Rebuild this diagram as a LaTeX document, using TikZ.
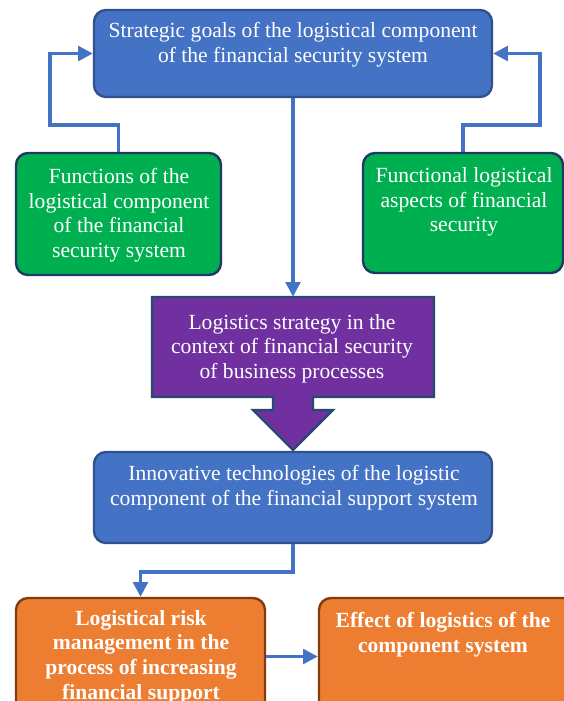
\documentclass[tikz,border=0pt]{standalone}
\usepackage{fontspec}
\setmainfont{Liberation Serif}
\usetikzlibrary{arrows.meta}

\definecolor{goalblue}{HTML}{4472C4}
\definecolor{goalline}{HTML}{2F528F}
\definecolor{funcgreen}{HTML}{00B050}
\definecolor{funcline}{HTML}{203864}
\definecolor{stratpurple}{HTML}{7030A0}
\definecolor{stratline}{HTML}{264B70}
\definecolor{riskorange}{HTML}{ED7D31}
\definecolor{riskline}{HTML}{843C0C}

\tikzset{
    panel/.style={draw, line width=1.8pt, rounded corners=9pt, inner sep=0pt},
    bluepanel/.style={panel, fill=goalblue, draw=goalline},
    greenpanel/.style={panel, fill=funcgreen, draw=funcline},
    orangepanel/.style={panel, fill=riskorange, draw=riskline},
    caption/.style={text=white, align=center, inner sep=0pt, font=\fontsize{16.2}{18.4}\selectfont},
    link/.style={draw=goalblue, line width=2.4pt, -{Triangle[length=11pt,width=11pt]}}
}

\begin{document}
\begin{tikzpicture}[x=0.75pt, y=-0.75pt]
    \clip (0,0) rectangle (564,701);
    \fill[white] (0,0) rectangle (564,701);

    % boxes
    \node[bluepanel, minimum width=298.5pt, minimum height=65.25pt] (goals) at (293,53.5) {};
    \node[greenpanel, minimum width=153.75pt, minimum height=91.5pt] (funcs) at (118.5,214) {};
    \node[greenpanel, minimum width=150pt, minimum height=90pt] (aspects) at (463,213) {};
    \node[bluepanel, minimum width=298.5pt, minimum height=68.25pt] (tech) at (293,497.5) {};
    \node[orangepanel, minimum width=186.75pt, minimum height=87.75pt] (risk) at (140.5,656.5) {};
    \node[orangepanel, minimum width=192pt, minimum height=87.75pt] (effect) at (447,656.5) {};

    % purple block arrow
    \draw[fill=stratpurple, draw=stratline, line width=1.8pt]
        (152,297) -- (434,297) -- (434,397) -- (313,397) -- (313,410) -- (333,410)
        -- (293,450) -- (253,410) -- (273,410) -- (273,397) -- (152,397) -- cycle;
    \node[minimum width=211.5pt, minimum height=75pt, inner sep=0pt] (strategy) at (293,347) {};

    % texts
    \node[caption] (goalsText) at (293,44.5) {Strategic goals of the logistical component\\of the financial security system};
    \node[caption] (funcsText) at (119,215) {Functions of the\\logistical component\\of the financial\\security system};
    \node[caption] (aspectsText) at (464,202) {Functional logistical\\aspects of financial\\security};
    \node[caption] (strategyText) at (292,348.5) {Logistics strategy in the\\context of financial security\\of business processes};
    \node[caption] (techText) at (294,487.5) {Innovative technologies of the logistic\\component of the financial support system};
    \node[caption, font=\fontsize{16.2}{18.4}\selectfont\bfseries] (riskText) at (141,657) {Logistical risk\\management in the\\process of increasing\\financial support};
    \node[caption, font=\fontsize{16.2}{18.4}\selectfont\bfseries] (effectText) at (443,634.5) {Effect of logistics of the\\component system};

    % connectors
    \draw[link] (funcs.north) -- (118.5,125) -| (50,53.5) -- (goals.west);
    \draw[link] (aspects.north) -- (463,125) -| (540,53.5) -- (goals.east);
    \draw[link] (goals.south) -- (strategy.north);
    \draw[link] (tech.south) -- (293,572) -| (risk.north);
    \draw[link] (risk.east) -- (effect.west);
\end{tikzpicture}
\end{document}
